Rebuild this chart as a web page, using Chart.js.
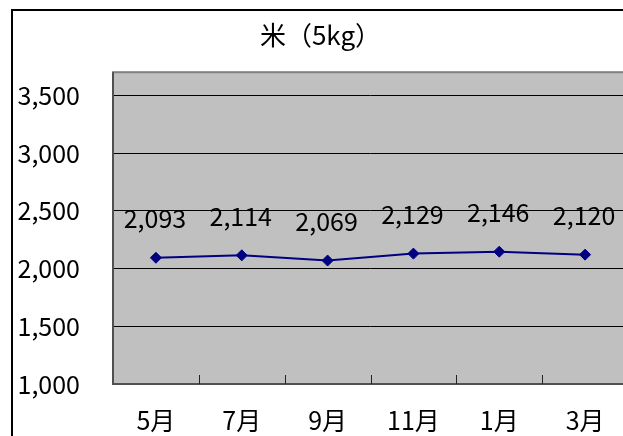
<!DOCTYPE html>
<html><head><meta charset="utf-8">
<script src="https://cdn.jsdelivr.net/npm/chart.js@4"></script>
<style>
html,body{margin:0;padding:0;width:623px;height:436px;overflow:hidden;background:#fff;position:relative}
#frame{position:absolute;left:11px;top:9px;width:700px;height:600px;border:2px solid #000;box-sizing:border-box}
#wrap{position:absolute;left:-7px;top:0;width:661px;height:436px}
</style></head><body>
<div id="frame"></div>
<div id="wrap"><canvas id="c"></canvas></div>
<script>
const categories = ['5月','7月','9月','11月','1月','3月'];
const riceValues = [2093, 2114, 2069, 2129, 2146, 2120];
const yTickValues = [1000, 1500, 2000, 2500, 3000, 3500];
const titleText = '米（5kg）';

const FONT = "'Noto Sans CJK JP', sans-serif";

const plotBg = {
  id: 'plotBg',
  beforeDraw(chart) {
    const {ctx, chartArea: a} = chart;
    ctx.save();
    ctx.fillStyle = '#c0c0c0';
    ctx.fillRect(a.left, a.top, a.right - a.left, a.bottom - a.top);
    ctx.restore();
  },
  afterDatasetsDraw(chart) {
    const {ctx, chartArea: a} = chart;
    ctx.save();
    ctx.strokeStyle = '#808080';
    ctx.lineWidth = 2;
    ctx.strokeRect(a.left, a.top, a.right - a.left, a.bottom - a.top);
    ctx.strokeStyle = '#505050';
    ctx.beginPath();
    ctx.moveTo(a.left, a.top); ctx.lineTo(a.left, a.bottom); ctx.lineTo(a.right, a.bottom);
    ctx.stroke();
    const xs = chart.scales.x;
    ctx.strokeStyle = '#222';
    ctx.lineWidth = 1;
    ctx.beginPath();
    for (let i = 0; i < categories.length; i++) {
      const x = Math.round(xs.getPixelForTick(i) + (xs.getPixelForTick(1) - xs.getPixelForTick(0)) / 2) + 0.5;
      ctx.moveTo(x, a.bottom); ctx.lineTo(x, a.bottom - 9);
    }
    ctx.stroke();
    ctx.restore();
  }
};

const dataLabels = {
  id: 'dataLabels',
  afterDatasetsDraw(chart) {
    const {ctx} = chart;
    const meta = chart.getDatasetMeta(0);
    ctx.save();
    ctx.font = '25px ' + FONT;
    ctx.fillStyle = '#000';
    ctx.textAlign = 'center';
    ctx.textBaseline = 'middle';
    meta.data.forEach((pt, i) => {
      ctx.fillText(riceValues[i].toLocaleString('en-US'), pt.x - 1, pt.y - 39);
    });
    ctx.restore();
  }
};

new Chart(document.getElementById('c'), {
  type: 'line',
  data: {
    labels: categories,
    datasets: [{
      data: riceValues,
      borderColor: '#000080',
      backgroundColor: '#000080',
      borderWidth: 2,
      pointStyle: 'rectRot',
      pointRadius: 5.5,
      pointBorderWidth: 1,
      pointBackgroundColor: '#000080',
      pointBorderColor: '#000080',
      tension: 0
    }]
  },
  options: {
    responsive: true,
    maintainAspectRatio: false,
    animation: false,
    layout: { padding: { left: 20, right: 26, top: 0, bottom: 0 } },
    plugins: {
      legend: { display: false },
      tooltip: { enabled: false },
      title: {
        display: true,
        text: titleText,
        color: '#000',
        font: { family: FONT, size: 26, weight: 'normal' },
        padding: { top: 20, bottom: 21 }
      }
    },
    scales: {
      x: {
        offset: true,
        grid: { display: false, offset: true },
        border: { display: false },
        ticks: { color: '#000', font: { family: FONT, size: 25 }, padding: 13, maxRotation: 0 },
        afterFit(s) { s.height = 52; }
      },
      y: {
        min: 1000,
        max: 3700,
        afterBuildTicks(s) { s.ticks = yTickValues.map(v => ({ value: v })); },
        grid: { color: '#000', lineWidth: 1, drawTicks: false },
        border: { display: false },
        ticks: {
          color: '#000',
          font: { family: FONT, size: 25 },
          padding: 33,
          callback: v => Number(v).toLocaleString('en-US')
        },
        afterFit(s) { s.width = 100; }
      }
    }
  },
  plugins: [plotBg, dataLabels]
});
</script>
</body></html>
